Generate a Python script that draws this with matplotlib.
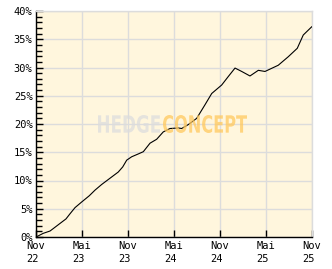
import matplotlib
matplotlib.use("Agg")
import matplotlib.pyplot as plt
from matplotlib.textpath import TextPath
from matplotlib.patches import PathPatch
from matplotlib.font_manager import FontProperties
from matplotlib.transforms import Affine2D
from matplotlib.ticker import MultipleLocator

# months since Nov 2022
months = [0, 0.95, 1.83, 2.26, 3.13, 3.91, 4.43, 5.09, 5.96, 6.95, 7.70, 8.57,
          9.65, 10.73, 11.31, 11.83, 12.48, 13.34, 14.0, 14.87, 15.74, 16.6,
          17.48, 18.56, 19.0, 19.87, 20.96, 22.04, 22.92, 24.22, 25.08, 25.96,
          26.83, 27.91, 29.0, 29.87, 31.6, 32.9, 34.08, 34.86, 35.96]
perf = [0, 0.65, 1.06, 1.5, 2.4, 3.2, 4.1, 5.2, 6.2, 7.3, 8.3, 9.3,
        10.4, 11.5, 12.4, 13.6, 14.2, 14.7, 15.1, 16.6, 17.3, 18.6,
        19.2, 19.3, 19.2, 19.9, 21.0, 23.4, 25.4, 26.9, 28.4, 29.9,
        29.3, 28.5, 29.5, 29.3, 30.4, 31.9, 33.4, 35.75, 37.2]

xtick_pos = [0, 6, 12, 18, 24, 30, 36]
xtick_labels = ["Nov\n22", "Mai\n23", "Nov\n23", "Mai\n24", "Nov\n24", "Mai\n25", "Nov\n25"]
ytick_pos = [0, 5, 10, 15, 20, 25, 30, 35, 40]
ytick_labels = ["0%", "5%", "10%", "15%", "20%", "25%", "30%", "35%", "40%"]

W, H = 332, 269
fig = plt.figure(figsize=(W / 100, H / 100), dpi=100, facecolor="white")
ax = fig.add_axes([36 / W, (H - 237) / H, (312 - 36) / W, (237 - 11) / H])
ax.set_facecolor("#FFF6DD")

ax.plot(months, perf, color="black", lw=0.8, zorder=3)

ax.set_xlim(0, 36)
ax.set_ylim(0, 40)
ax.set_xticks(xtick_pos)
ax.set_xticklabels(xtick_labels, fontfamily="DejaVu Sans Mono", fontsize=7.5,
                   ha="center", multialignment="left", linespacing=1.35)
ax.set_yticks(ytick_pos)
ax.set_yticklabels(ytick_labels, fontfamily="DejaVu Sans Mono", fontsize=7.5)
ax.yaxis.set_minor_locator(MultipleLocator(1))

ax.tick_params(axis="x", direction="in", length=5, width=1, color="black", pad=3)
ax.tick_params(axis="y", which="major", direction="in", length=5, width=1, color="black", pad=2.5)
ax.tick_params(axis="y", which="minor", direction="in", length=4, width=1, color="black")

ax.grid(True, which="major", color="#DCDCDC", lw=1, zorder=0)
ax.set_axisbelow(True)
for s in ["top", "right"]:
    ax.spines[s].set_color("#DCDCDC")
    ax.spines[s].set_linewidth(1)
for s in ["left", "bottom"]:
    ax.spines[s].set_color("black")
    ax.spines[s].set_linewidth(1)

# watermark
def watermark(text, x0, x1, ytop, ybot, color):
    fp = FontProperties(family="DejaVu Sans", weight="bold")
    tp = TextPath((0, 0), text, prop=fp, size=20)
    ext = tp.get_extents()
    sx = (x1 - x0) / ext.width
    sy = (ybot - ytop) / ext.height
    tr = (Affine2D().translate(-ext.x0, -ext.y0).scale(sx, sy)
          .translate(x0, H - ybot))
    patch = PathPatch(tp, facecolor=color, edgecolor="none", alpha=0.75,
                      transform=tr, zorder=5)
    fig.add_artist(patch)

watermark("HEDGE", 98, 160, 115, 133, "#DDDDDD")
watermark("CONCEPT", 163, 247, 115, 133, "#FFC95E")

fig.savefig("out.png", dpi=100, facecolor="white")
